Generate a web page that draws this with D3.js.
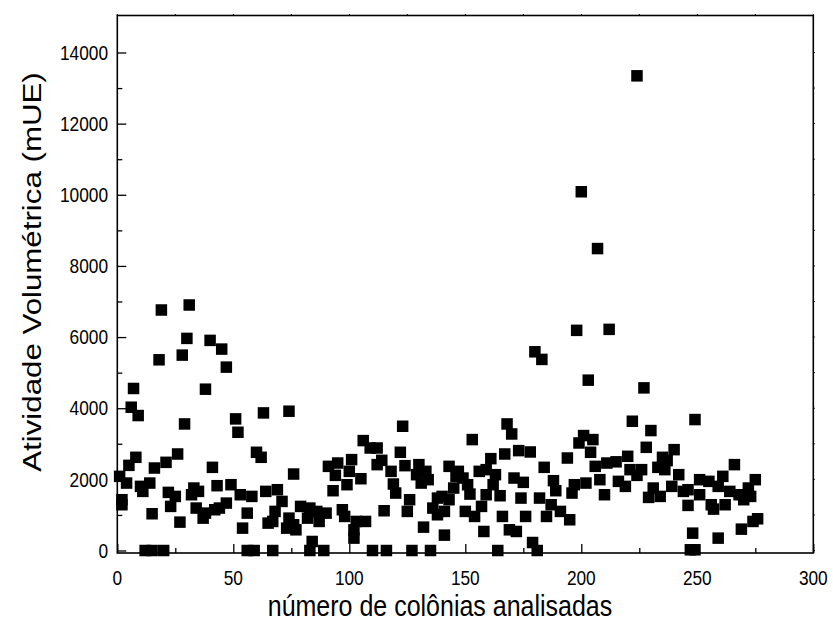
<!DOCTYPE html>
<html>
<head>
<meta charset="utf-8">
<script src="https://cdn.jsdelivr.net/npm/d3@7"></script>
<style>
  body { margin: 0; background: #fff; }
  svg { display: block; font-family: "Liberation Sans", Arial, sans-serif; }
</style>
</head>
<body>
<script>
const width = 833;
const height = 624;

// colony index and volumetric activity (mUE)
const colonia = [
  1, 2, 2, 4, 5, 6, 7, 8, 9, 10, 11, 12, 14, 15, 15, 16, 18, 19, 20, 21,
  22, 23, 25, 26, 27, 28, 29, 30, 31, 32, 33, 34, 35, 37, 38, 38, 40, 41, 42, 43,
  44, 45, 47, 47, 49, 51, 52, 53, 54, 56, 56, 58, 59, 60, 62, 63, 64, 65, 67, 67,
  68, 69, 71, 73, 74, 74, 76, 76, 77, 79, 82, 83, 83, 84, 86, 87, 89, 90, 91, 93,
  94, 95, 97, 98, 99, 100, 101, 102, 102, 103, 105, 106, 107, 109, 110, 112, 112, 114, 115, 116,
  118, 119, 120, 122, 123, 124, 125, 126, 127, 129, 130, 131, 132, 133, 134, 135, 136, 138, 138, 140,
  141, 141, 143, 143, 145, 146, 147, 149, 150, 151, 152, 153, 154, 156, 157, 158, 159, 159, 161, 162,
  163, 164, 165, 166, 167, 168, 169, 170, 171, 172, 173, 174, 175, 176, 178, 179, 180, 181, 182, 183,
  184, 185, 187, 188, 189, 191, 194, 195, 196, 197, 198, 199, 200, 201, 202, 203, 204, 205, 206, 207,
  208, 210, 211, 212, 215, 216, 219, 220, 221, 222, 224, 224, 226, 227, 228, 229, 230, 231, 233, 234,
  235, 236, 237, 239, 240, 242, 244, 246, 246, 247, 248, 249, 249, 251, 251, 255, 256, 257, 259, 259,
  261, 262, 264, 266, 268, 269, 270, 272, 273, 274, 275, 276
];
const atividade = [
  2085, 1428, 1287, 1896, 2394, 4028, 4555, 2620, 3794, 1803, 1662, 0, 1896, 1033, 0, 2319, 5361, 6761, 0, 2479,
  1634, 1240, 1521, 2713, 798, 5493, 3558, 5963, 6902, 1568, 1756, 1193, 1662, 910, 4535, 1051, 5907, 2338, 1146, 1822,
  1193, 5662, 5155, 1333, 1850, 3700, 3324, 1568, 629, 1051, 0, 1521, 0, 2761, 2620, 3868, 1662, 770, 0, 817,
  1099, 1709, 1380, 629, 910, 3916, 2150, 724, 582, 1240, 910, 1193, 0, 254, 1099, 817, 0, 1051, 2366, 1681,
  2113, 2459, 1146, 958, 1850, 2225, 2555, 348, 582, 817, 2018, 3090, 817, 2882, 0, 2414, 2882, 2535, 1118, 0,
  2225, 1869, 1615, 2761, 3493, 2385, 1099, 1428, 0, 2131, 2414, 1896, 657, 2225, 1991, 0, 1193, 1474, 1005, 1521,
  1099, 432, 2366, 1428, 1756, 2085, 2225, 2037, 1099, 1850, 1586, 3118, 958, 2225, 1240, 535, 2273, 1568, 2582, 1850,
  2132, 0, 1540, 958, 2713, 3558, 582, 3276, 2037, 535, 2808, 1474, 1916, 958, 2770, 225, 5586, 0, 1474, 5372,
  2338, 958, 1287, 1963, 1681, 1099, 2600, 864, 1615, 1850, 6189, 3023, 10085, 3231, 1896, 4789, 2761, 3118, 2366, 8488,
  1991, 1568, 2459, 6217, 2493, 1944, 1803, 2648, 2273, 3634, 2113, 13344, 2273, 4572, 2901, 1493, 3372, 1756, 2338, 1521,
  2620, 2273, 2526, 1803, 2835, 2132, 1662, 1268, 1709, 20, 488, 20, 3681, 1568, 1991, 1944, 1287, 1164, 348, 1803,
  2085, 1287, 1662, 2414, 1568, 601, 1428, 1756, 1521, 817, 1991, 892
];

const xTicks = [0, 50, 100, 150, 200, 250, 300];
const yTicks = [0, 2000, 4000, 6000, 8000, 10000, 12000, 14000];

const margin = { left: 117.3, right: 833 - 813.3, top: 15.5, bottom: 624 - 553 };

const x = d3.scaleLinear()
    .domain([0, 300])
    .range([margin.left, width - margin.right]);
const y = d3.scaleLinear()
    .domain([-70, 15040])
    .range([height - margin.bottom, margin.top]);

// text in this chart is drawn a little taller than wide
const stretch = 1.18;

const svg = d3.select('body').append('svg')
    .attr('width', width)
    .attr('height', height);

// points
const sz = 11.5;
svg.append('g')
  .selectAll('rect')
  .data(d3.zip(colonia, atividade))
  .join('rect')
    .attr('x', (d) => x(d[0]) - sz / 2)
    .attr('y', (d) => y(d[1]) - sz / 2)
    .attr('width', sz)
    .attr('height', sz)
    .attr('fill', '#000');

// bottom axis, ticks inside
const bottom = svg.append('g')
    .attr('transform', `translate(0,${y.range()[0]})`)
    .call(d3.axisBottom(x).tickValues(d3.range(0, 301, 25))
      .tickSize(0).tickPadding(0).tickFormat(''));
bottom.select('.domain').remove();
bottom.selectAll('.tick line')
    .attr('y2', (d) => d % 50 === 0 ? -9 : -5)
    .attr('stroke-width', 1.3);
svg.append('g')
  .selectAll('text')
  .data(xTicks)
  .join('text')
    .attr('transform', (d) => `translate(${x(d)},585) scale(1,${stretch})`)
    .attr('text-anchor', 'middle')
    .attr('font-size', 17.3)
    .text((d) => d);

// left axis, ticks inside
const left = svg.append('g')
    .attr('transform', `translate(${x.range()[0]},0)`)
    .call(d3.axisLeft(y).tickValues(d3.range(0, 14001, 1000))
      .tickSize(0).tickFormat(''));
left.select('.domain').remove();
left.selectAll('.tick line')
    .attr('x2', (d) => d % 2000 === 0 ? 9 : 5)
    .attr('stroke-width', 1.3);
svg.append('g')
  .selectAll('text')
  .data(yTicks)
  .join('text')
    .attr('transform', (d) => `translate(108,${y(d)}) scale(1,${stretch})`)
    .attr('dy', '0.35em')
    .attr('text-anchor', 'end')
    .attr('font-size', 17.3)
    .text((d) => d);

// tiny ticks on top and right edges
svg.append('g')
  .selectAll('line')
  .data(d3.range(0, 301, 25))
  .join('line')
    .attr('x1', (d) => x(d)).attr('x2', (d) => x(d))
    .attr('y1', y.range()[1]).attr('y2', y.range()[1] - 1.5)
    .attr('stroke', '#000');
svg.append('g')
  .selectAll('line')
  .data(d3.range(0, 14001, 1000))
  .join('line')
    .attr('x1', x.range()[1]).attr('x2', x.range()[1] + 1.5)
    .attr('y1', (d) => y(d)).attr('y2', (d) => y(d))
    .attr('stroke', '#000');

// frame
svg.append('rect')
    .attr('x', x.range()[0])
    .attr('y', y.range()[1])
    .attr('width', x.range()[1] - x.range()[0])
    .attr('height', y.range()[0] - y.range()[1])
    .attr('fill', 'none')
    .attr('stroke', '#000')
    .attr('stroke-width', 1.6);

// axis titles
svg.append('text')
    .attr('transform', `translate(440,616) scale(1,${stretch})`)
    .attr('text-anchor', 'middle')
    .attr('font-size', 25)
    .text('número de colônias analisadas');
svg.append('text')
    .attr('transform', `translate(41,272) scale(1,${stretch}) rotate(-90)`)
    .attr('text-anchor', 'middle')
    .attr('font-size', 26.5)
    .text('Atividade Volumétrica (mUE)');
</script>
</body>
</html>
